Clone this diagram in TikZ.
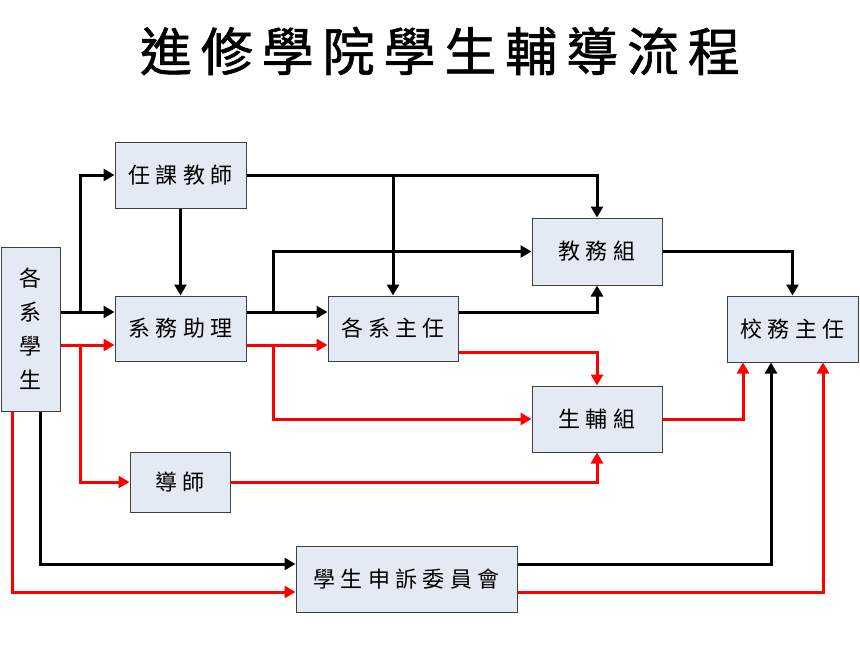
\documentclass[tikz,border=0pt]{standalone}
\usepackage{fontspec}
\usetikzlibrary{arrows.meta,calc}
\newfontfamily\cjk[LetterSpace=24]{Noto Sans CJK TC}
\newfontfamily\cjkplain{Noto Sans CJK TC}
\newfontfamily\cjktitle[FakeBold=1.2]{Noto Sans CJK TC}
\definecolor{boxfill}{HTML}{E4EAF4}
\definecolor{boxline}{HTML}{404040}
\definecolor{redline}{HTML}{FF0000}
\tikzset{
  box/.style={draw=boxline, line width=1pt, fill=boxfill, inner sep=0pt,
    font=\cjk\fontsize{22}{34}\selectfont, align=center},
  conn/.style={line width=3pt, -{Triangle[length=11pt,width=12pt]}},
  blk/.style={conn, draw=black},
  rd/.style={conn, draw=redline},
}
\begin{document}
\begin{tikzpicture}[x=1pt,y=-1pt]
\useasboundingbox (0,0) rectangle (860,659);
% title
\node (title) at (440,51) {\cjktitle\fontsize{52}{60}\selectfont\makebox[600pt][s]{進\hfill 修\hfill 學\hfill 院\hfill 學\hfill 生\hfill 輔\hfill 導\hfill 流\hfill 程}};
% boxes
\node[box, minimum width=131pt, minimum height=66pt] (tk) at (180.5,175) {任課教師};
\node[box, minimum width=131pt, minimum height=65pt] (zl) at (180.5,328.5) {系務助理};
\node[box, minimum width=59pt, minimum height=164pt, font=\cjkplain\fontsize{22}{34}\selectfont] (st) at (30.5,329) {各\\系\\學\\生};
\node[box, minimum width=130pt, minimum height=65pt] (zr) at (393,328.5) {各系主任};
\node[box, minimum width=130pt, minimum height=67pt] (jw) at (597,251.5) {教務組};
\node[box, minimum width=131pt, minimum height=66pt] (xw) at (792.5,329) {校務主任};
\node[box, minimum width=130pt, minimum height=66pt] (sf) at (597,419) {生輔組};
\node[box, minimum width=100pt, minimum height=60pt] (ds) at (180,482) {導師};
\node[box, minimum width=221pt, minimum height=66pt] (ss) at (406.5,579) {學生申訴委員會};
% routing coordinates
\coordinate (kb) at (80,312);
\coordinate (kr) at (80,345);
\coordinate (mb) at (273,312);
\coordinate (mr) at (273,345);
\coordinate (zrr) at (0,352);
\coordinate (sb) at (40,564);
\coordinate (sr) at (12,592);
\coordinate (xb) at (771,0);
\coordinate (xr1) at (743,0);
\coordinate (xr2) at (823,0);
% black connectors
\draw[blk] (st.east |- kb) -- (zl.west |- kb);
\draw[blk] (kb) |- (tk.west);
\draw[blk] (tk.south) -- (zl.north);
\draw[blk] (tk.east) -| (jw.north);
\draw[blk] (tk.east -| zr.north) -- (zr.north);
\draw[blk] (zl.east |- kb) -- (zr.west |- kb);
\draw[blk] (mb) |- (jw.west);
\draw[blk] (zr.east |- kb) -| (jw.south);
\draw[blk] (jw.east) -| (xw.north);
\draw[blk] (st.south -| sb) |- (ss.west |- sb);
\draw[blk] (ss.east |- sb) -| (xw.south -| xb);
% red connectors
\draw[rd] (st.east |- kr) -- (zl.west |- kr);
\draw[rd] (kr) |- (ds.west);
\draw[rd] (zl.east |- kr) -- (zr.west |- kr);
\draw[rd] (mr) |- (sf.west);
\draw[rd] (zr.east |- zrr) -| (sf.north);
\draw[rd] (sf.east) -| (xw.south -| xr1);
\draw[rd] (ds.east) -| (sf.south);
\draw[rd] (st.south -| sr) |- (ss.west |- sr);
\draw[rd] (ss.east |- sr) -| (xw.south -| xr2);
\end{tikzpicture}
\end{document}
